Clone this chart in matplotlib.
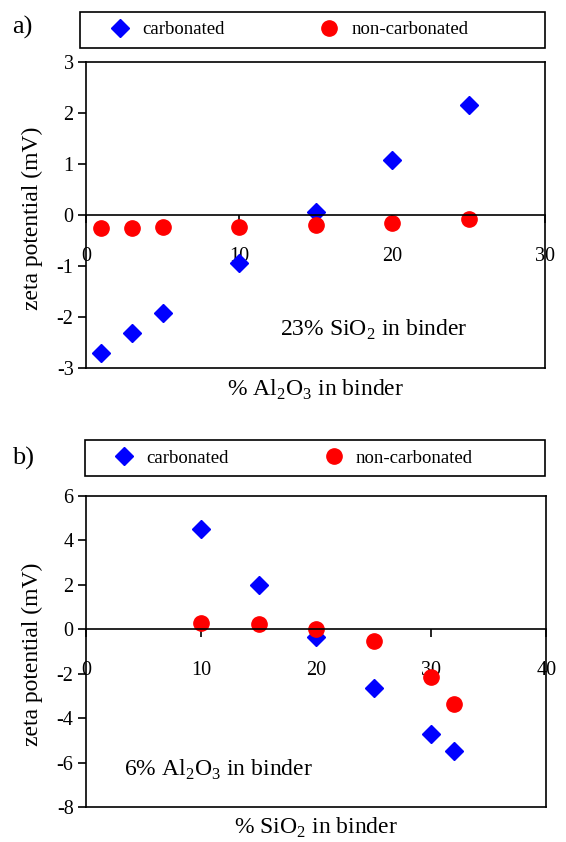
"""Zeta potential vs binder composition, carbonated and non-carbonated."""
import matplotlib
matplotlib.use("Agg")
import matplotlib.pyplot as plt
from matplotlib.patches import Rectangle

plt.rcParams['font.family'] = ['Liberation Serif', 'DejaVu Serif']
plt.rcParams['mathtext.fontset'] = 'custom'
plt.rcParams['mathtext.rm'] = 'Liberation Serif'
plt.rcParams['axes.unicode_minus'] = False

# panel a: % Al2O3 in binder (23% SiO2)
al_pct = [1, 3, 5, 10, 15, 20, 25]
al_carb = [-2.70, -2.32, -1.93, -0.95, 0.05, 1.08, 2.15]
al_noncarb = [-0.25, -0.25, -0.24, -0.23, -0.20, -0.15, -0.07]

# panel b: % SiO2 in binder (6% Al2O3)
si_pct = [10, 15, 20, 25, 30, 32]
si_carb = [4.5, 2.0, -0.35, -2.65, -4.7, -5.5]
si_noncarb = [0.30, 0.22, 0.02, -0.55, -2.15, -3.35]

FS = 14.5      # tick labels
LFS = 17       # axis labels / notes
LEGFS = 13.5
BLUE = '#0000ff'
RED = '#ff0000'


def panel(ax, x, carb, noncarb, xlim, ylim, yticks, xticks, xlabel, note, note_xy,
          frame_box, leg_anchor, tag):
    ax.plot(x, carb, 'D', color=BLUE, ms=9, mec=BLUE, label='carbonated', clip_on=False)
    ax.plot(x, noncarb, 'o', color=RED, ms=11, mec=RED, label='non-carbonated', clip_on=False)
    ax.set_xlim(*xlim)
    ax.set_ylim(*ylim)
    ax.set_yticks(yticks)
    ax.set_xticks(xticks)
    for s in ax.spines.values():
        s.set_linewidth(1.2)
    ax.spines['bottom'].set_position(('data', 0))
    # bottom edge of the frame
    ax.plot([0, 1], [0, 0], transform=ax.transAxes, color='k', lw=1.2, clip_on=False)
    ax.tick_params(axis='both', labelsize=FS, length=6, width=1.2, direction='out')
    ax.tick_params(axis='x', pad=17)
    ax.tick_params(axis='y', pad=3)
    ax.set_ylabel('zeta potential (mV)', fontsize=LFS)
    ax.yaxis.set_label_coords(-0.094, 0.49)
    ax.text(0.5, xlabel[1], xlabel[0], transform=ax.transAxes, ha='center', va='center',
            fontsize=LFS)
    ax.text(note_xy[0], note_xy[1], note, ha='left', va='center', fontsize=LFS)
    ax.add_patch(Rectangle(frame_box[:2], frame_box[2], frame_box[3], transform=ax.transAxes,
                           fill=False, ec='k', lw=1.2, clip_on=False))
    ax.legend(loc='center left', bbox_to_anchor=leg_anchor, ncol=2, frameon=False,
              fontsize=LEGFS, borderaxespad=0, borderpad=0, handlelength=1.0,
              handletextpad=0.67, columnspacing=5.1)
    ax.figure.text(0.021, tag[1], tag[0], fontsize=19, va='center')


fig = plt.figure(figsize=(5.66, 8.42), dpi=100)
ax1 = fig.add_axes([0.152, 0.5629, 0.811, 0.3634])
ax2 = fig.add_axes([0.152, 0.0416, 0.813, 0.3694])

panel(ax1, al_pct, al_carb, al_noncarb, (0, 30), (-3, 3), range(-3, 4), [0, 10, 20, 30],
      (r'% Al$_2$O$_3$ in binder', -0.072), r'23% SiO$_2$ in binder', (12.7, -2.25),
      (-0.013, 1.046, 1.013, 0.118), (0.0536, 1.105), ('a)', 1 - 27 / 842))
panel(ax2, si_pct, si_carb, si_noncarb, (0, 40), (-8, 6), range(-8, 7, 2), [0, 10, 20, 30, 40],
      (r'% SiO$_2$ in binder', -0.068), r'6% Al$_2$O$_3$ in binder', (3.3, -6.35),
      (-0.002, 1.064, 1.0, 0.116), (0.063, 1.122), ('b)', 1 - 458 / 842))

fig.savefig('out.png', dpi=100)
